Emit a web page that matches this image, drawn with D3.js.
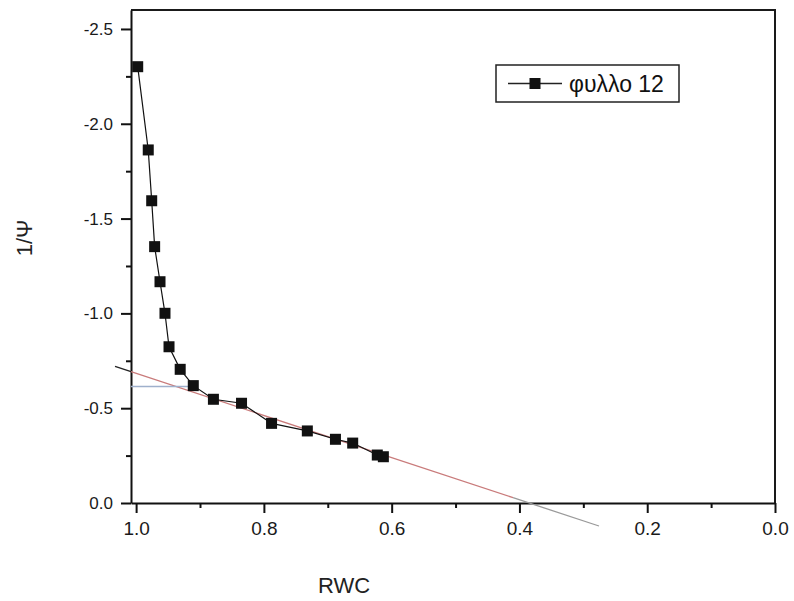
<!DOCTYPE html>
<html>
<head>
<meta charset="utf-8">
<script src="https://cdn.jsdelivr.net/npm/d3@7"></script>
<style>
  body { margin: 0; background: #fff; }
  svg { display: block; font-family: "Liberation Sans", Arial, sans-serif; }
  .axis path, .axis line { stroke: #111; stroke-width: 2; }
  .axis text { fill: #1a1a1a; }
</style>
</head>
<body>
<div id="chart"></div>
<script>
// RWC values and 1/Ψ values (leaf 12)
const rwcValues = [0.9975, 0.981, 0.9756, 0.971, 0.9626, 0.9548, 0.9485, 0.931, 0.9105,
  0.879, 0.835, 0.788, 0.732, 0.688, 0.661, 0.6225, 0.613];
const invPsiValues = [-2.301, -1.862, -1.594, -1.352, -1.167, -1.0005, -0.824, -0.705, -0.619,
  -0.547, -0.526, -0.420, -0.380, -0.336, -0.316, -0.253, -0.244];

const xTicks = [1.0, 0.8, 0.6, 0.4, 0.2, 0.0];
const xMinorTicks = [0.9, 0.7, 0.5, 0.3, 0.1];
const yTicks = [0.0, -0.5, -1.0, -1.5, -2.0, -2.5];
const yMinorTicks = [-0.25, -0.75, -1.25, -1.75, -2.25];

// linear fit through the turgor-loss part: 1/Ψ = fitIntercept + fitSlope * RWC
const fitSlope = -1.111;
const fitIntercept = 0.4274;
const fitRange = [1.033, 1.008, 0.41, 0.2755]; // outside frame, red part, grey tail
const turgorLossValue = -0.615;
const turgorLossRange = [1.008, 0.905];

const seriesName = "φυλλο 12";

const width = 794;
const height = 601;
const margin = { top: 10, right: 19, bottom: 98, left: 131 };

const svg = d3.select("#chart").append("svg")
  .attr("width", width)
  .attr("height", height);

const x = d3.scaleLinear()
  .domain([1.008, 0])
  .range([margin.left, width - margin.right]);

const y = d3.scaleLinear()
  .domain([0, -2.6])
  .range([height - margin.bottom, margin.top]);

const fmt = (d) => d.toFixed(1);

// frame (top and right)
svg.append("path")
  .attr("d", `M${margin.left},${margin.top}H${width - margin.right}V${height - margin.bottom}`)
  .attr("fill", "none")
  .attr("stroke", "#1a1a1a")
  .attr("stroke-width", 2);

// axes
svg.append("g")
  .attr("class", "axis")
  .attr("transform", `translate(0, ${height - margin.bottom})`)
  .call(d3.axisBottom(x).tickValues(xTicks).tickFormat(fmt).tickSize(10).tickSizeOuter(0).tickPadding(9))
  .call((g) => g.selectAll("text").attr("font-size", 19));

svg.append("g")
  .attr("class", "axis")
  .attr("transform", `translate(0, ${height - margin.bottom})`)
  .call(d3.axisBottom(x).tickValues(xMinorTicks).tickFormat("").tickSize(5).tickSizeOuter(0))
  .call((g) => g.select(".domain").remove());

svg.append("g")
  .attr("class", "axis")
  .attr("transform", `translate(${margin.left}, 0)`)
  .call(d3.axisLeft(y).tickValues(yTicks).tickFormat(fmt).tickSize(10).tickSizeOuter(0).tickPadding(8))
  .call((g) => g.selectAll("text").attr("font-size", 17));

svg.append("g")
  .attr("class", "axis")
  .attr("transform", `translate(${margin.left}, 0)`)
  .call(d3.axisLeft(y).tickValues(yMinorTicks).tickFormat("").tickSize(5).tickSizeOuter(0))
  .call((g) => g.select(".domain").remove());

// axis titles
svg.append("text")
  .attr("x", 344)
  .attr("y", 593)
  .attr("text-anchor", "middle")
  .attr("font-size", 22)
  .attr("fill", "#222")
  .text("RWC");

svg.append("text")
  .attr("transform", "translate(32, 238) rotate(-90)")
  .attr("text-anchor", "middle")
  .attr("font-size", 22)
  .attr("fill", "#222")
  .text("1/Ψ");

// fit line in three parts
const fitValue = (r) => fitIntercept + fitSlope * r;
const fitColors = ["#222", "#c97b7b", "#9a9a9a"];
for (let i = 0; i < fitRange.length - 1; i++) {
  svg.append("line")
    .attr("x1", x(fitRange[i]))
    .attr("y1", y(fitValue(fitRange[i])))
    .attr("x2", x(fitRange[i + 1]))
    .attr("y2", y(fitValue(fitRange[i + 1])))
    .attr("stroke", fitColors[i])
    .attr("stroke-width", 1.3);
}

// turgor loss point marker line
svg.append("line")
  .attr("x1", x(turgorLossRange[0]))
  .attr("x2", x(turgorLossRange[1]))
  .attr("y1", y(turgorLossValue))
  .attr("y2", y(turgorLossValue))
  .attr("stroke", "#9fb0cc")
  .attr("stroke-width", 1.5);

// data series
const points = rwcValues.map((r, i) => ({ r, v: invPsiValues[i] }));

svg.append("path")
  .datum(points)
  .attr("fill", "none")
  .attr("stroke", "#111")
  .attr("stroke-width", 1.2)
  .attr("d", d3.line().x((d) => x(d.r)).y((d) => y(d.v)));

const size = 11;
svg.append("g")
  .selectAll("rect")
  .data(points)
  .join("rect")
  .attr("x", (d) => x(d.r) - size / 2)
  .attr("y", (d) => y(d.v) - size / 2)
  .attr("width", size)
  .attr("height", size)
  .attr("fill", "#111");

// legend
const legend = svg.append("g").attr("transform", "translate(496, 65)");
legend.append("rect")
  .attr("width", 183)
  .attr("height", 37)
  .attr("fill", "#fff")
  .attr("stroke", "#222")
  .attr("stroke-width", 1.5);
legend.append("line")
  .attr("x1", 12).attr("x2", 66)
  .attr("y1", 18.5).attr("y2", 18.5)
  .attr("stroke", "#222")
  .attr("stroke-width", 1.3);
legend.append("rect")
  .attr("x", 39 - size / 2)
  .attr("y", 18.5 - size / 2)
  .attr("width", size)
  .attr("height", size)
  .attr("fill", "#111");
legend.append("text")
  .attr("x", 73)
  .attr("y", 26.5)
  .attr("font-size", 23)
  .attr("fill", "#111")
  .text(seriesName);
</script>
</body>
</html>
